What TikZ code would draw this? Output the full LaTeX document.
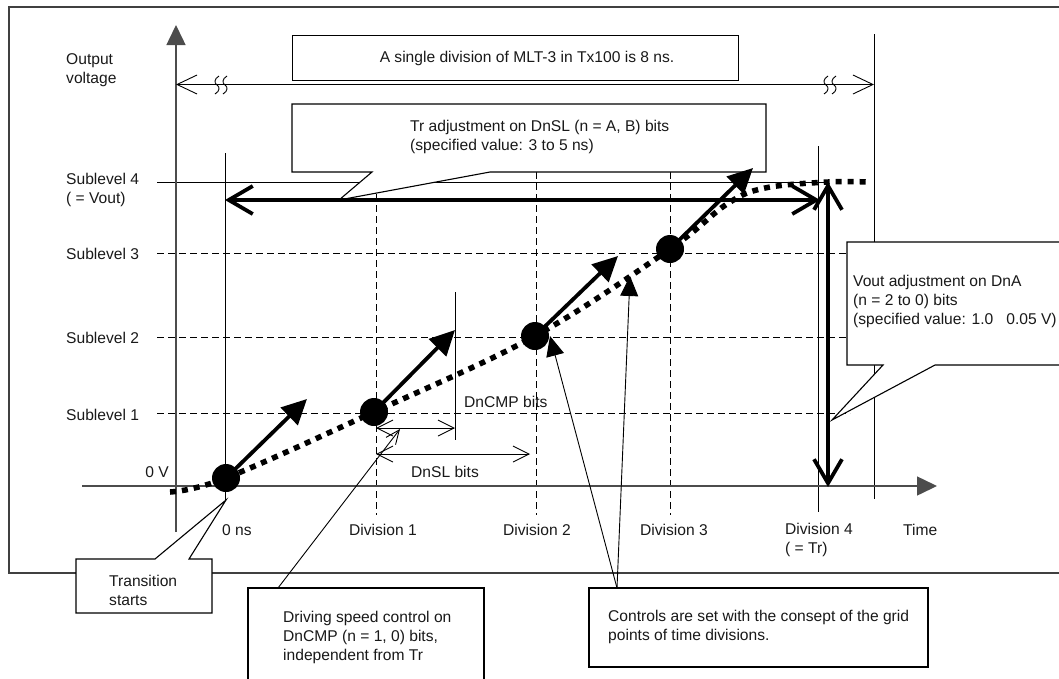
\documentclass[tikz,border=0pt]{standalone}
\usepackage{fontspec}
\setmainfont{Liberation Sans}
\usetikzlibrary{arrows.meta}
\begin{document}
\begin{tikzpicture}[x=1pt,y=-1pt,
    every node/.style={inner sep=0pt,font=\fontsize{15.6}{19}\selectfont,text=black!90},
    txt/.style={anchor=west,align=left},
    frameline/.style={draw=black!75,line width=1.5pt},
    axis/.style={draw=black!70,line width=1.5pt,-{Triangle[length=20pt,width=19pt]}},
    gridline/.style={line width=0.9pt,dash pattern=on 7pt off 4pt},
    thinline/.style={line width=0.9pt},
    callout/.style={draw,line width=1.1pt,fill=white},
    dotcurve/.style={line width=5.5pt,dash pattern=on 6pt off 6pt},
    drive/.style={line width=3.8pt,-{Triangle[length=25pt,width=24pt]}},
    bigarrow/.style={line width=3.8pt,{Straight Barb[length=24pt,width=28pt]}-{Straight Barb[length=24pt,width=28pt]}},
    smallarrow/.style={line width=0.9pt,{Straight Barb[length=16pt,width=16pt]}-{Straight Barb[length=16pt,width=16pt]}},
    pointer/.style={line width=0.9pt,-{Triangle[length=20pt,width=18pt]}},
    dot/.style={circle,fill=black,minimum size=28pt}
]
\useasboundingbox (0,0) rectangle (1059,678);

% frame
\draw[frameline] (9,7) rectangle (1070,573);

% grid
\foreach \y in {253,337,413} \draw[gridline] (157,\y) -- (850,\y);
\foreach \x in {376,536,670} \draw[gridline] (\x,172) -- (\x,515);
\draw[thinline] (157,182) -- (828,182);
\draw[thinline] (225,153) -- (225,500);
\draw[thinline] (818,146) -- (818,512);
\draw[thinline] (874,34) -- (874,499);
\draw[thinline] (455,292) -- (455,440);

% axes
\draw[axis] (176,532) -- (176,25);
\draw[axis] (82,486) -- (937,486);

% one division
\node[draw,line width=1.1pt,minimum width=446pt,minimum height=45pt,anchor=north west] (divbox) at (292,35) {};
\node (divtext) at (527,58) {A single division of MLT-3 in Tx100 is 8 ns.};
\coordinate (dl) at (176,84.5);
\coordinate (dr) at (874,84.5);
\draw[thinline,{Straight Barb[length=20pt,width=19pt]}-{Straight Barb[length=20pt,width=19pt]}] (dl) -- (dr);
\foreach \x in {217,225,826,834}
  \draw[thinline] (\x+2,76) .. controls (\x-3,79) and (\x-3,83) .. (\x,85) .. controls (\x+3,87) and (\x+3,91) .. (\x-2,94);

% callouts
\draw[callout] (292,104) -- (766,104) -- (766,172) -- (490,172) -- (339,200) -- (372,172) -- (292,172) -- cycle;
\draw[callout] (847,242) -- (1070,242) -- (1070,365) -- (935,365) -- (832,420) -- (883,365) -- (847,365) -- cycle;
\draw[callout] (76,559) -- (155,559) -- (226,500) -- (189,559) -- (212,559) -- (212,613) -- (76,613) -- cycle;
\draw[callout] (248,690) -- (248,588) -- (484,588) -- (484,690);
\draw[callout] (589,588) rectangle (928,667);

% waveform
\draw[dotcurve] plot[smooth,tension=0.6] coordinates {(170,492) (226,478) (374,412) (535,336) (670,249) (727,204) (765,188) (828,182) (868,182)};
\node[dot] (d0) at (226,478) {};
\node[dot] (d1) at (374,412) {};
\node[dot] (d2) at (535,336) {};
\node[dot] (d3) at (670,249) {};
\coordinate (t0) at (307,399);
\coordinate (t1) at (455,330);
\coordinate (t2) at (618,256);
\coordinate (t3) at (753,168);
\draw[drive] (d0.center) -- (t0);
\draw[drive] (d1.center) -- (t1);
\draw[drive] (d2.center) -- (t2);
\draw[drive] (d3.center) -- (t3);

% Tr and Vout
\coordinate (tr0) at (225,200);
\coordinate (tr4) at (820,200);
\draw[bigarrow] (tr0) -- (tr4);
\coordinate (v4) at (828,182);
\coordinate (v0) at (828,487);
\draw[bigarrow] (v4) -- (v0);

% DnCMP, DnSL
\draw[smallarrow] (376,428) -- (455,428);
\draw[smallarrow] (376,454) -- (530,454);

% pointers
\coordinate (cp) at (617,588);
\coordinate (ctip) at (630,276);
\draw[pointer] (cp) -- (550,336);
\draw[pointer] (cp) -- (ctip);
\coordinate (dp) at (278,588);
\coordinate (dtip) at (400,429);
\draw[thinline,-{Straight Barb[length=14pt,width=12pt]}] (dp) -- (dtip);

% labels
\node[txt] (ylab) at (66,70) {Output\\voltage};
\node[txt] (sl4) at (66,190) {Sublevel 4\\( = Vout)};
\node[txt] (sl3) at (66,254) {Sublevel 3};
\node[txt] (sl2) at (66,338) {Sublevel 2};
\node[txt] (sl1) at (66,415) {Sublevel 1};
\node[anchor=east] (zv) at (169,472) {0 V};
\node[txt] (zns) at (222,530) {0 ns};
\node[txt] (div1) at (349,530) {Division 1};
\node[txt] (div2) at (503,530) {Division 2};
\node[txt] (div3) at (640,530) {Division 3};
\node[txt] (div4) at (785,540) {Division 4\\( = Tr)};
\node[txt] (time) at (903,530) {Time};
\node[txt] (cmp) at (464,402) {DnCMP bits};
\node (sl) at (445,472) {DnSL bits};
\node[txt] (trtext) at (410,137) {Tr adjustment on DnSL (n = A, B) bits\\(specified value: 3 to 5 ns)};
\node[txt] (vtext) at (853,301) {Vout adjustment on DnA\\(n = 2 to 0) bits\\(specified value: 1.0\hspace{13pt}0.05 V)};
\node[txt] (tstart) at (109,590) {Transition\\starts};
\node[txt] (dtext) at (283,637) {Driving speed control on\\DnCMP (n = 1, 0) bits,\\independent from Tr};
\node[txt] (ctext) at (608,627) {Controls are set with the consept of the grid\\points of time divisions.};
\end{tikzpicture}
\end{document}
